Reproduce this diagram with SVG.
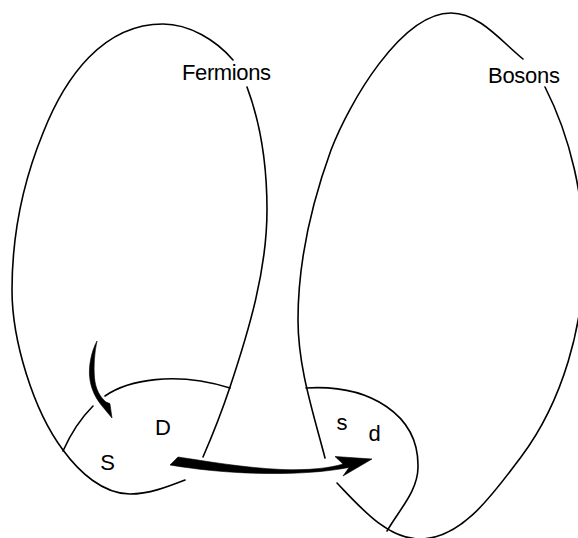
<svg xmlns="http://www.w3.org/2000/svg" width="578" height="538" viewBox="0 0 578 538">
<style>
.outline{fill:none;stroke:#000;stroke-width:1.6;stroke-linecap:round}
.lbl{font-family:"Liberation Sans",Arial,sans-serif;font-size:22px;fill:#000}
.arrow{fill:#000;stroke:#000;stroke-width:0.6;stroke-linejoin:round}
</style>
<rect width="578" height="538" fill="#fff"/>
<g id="fermions">
<path class="outline" d="M185,480 C167,487 149,494 130,494 C103,494 79,472 63,450 C33,410 12,340 12,290 C12,237 23,182 43,133 C65,77 103,24 163,24 C189,24 216,40 233,60"/>
<path class="outline" d="M247,87 C262,127 267,168 267,210 C267,270 249,330 230,387 C222,411 213,434 203,457"/>
<text class="lbl" x="182" y="80" textLength="89">Fermions</text>
</g>
<g id="bosons">
<path class="outline" d="M545,87 C571,138 584,198 584,255 C584,325 563,401 521,457 C495,491 463,539 420,539 C387,539 360,507 337,483"/>
<path class="outline" d="M325,458 C313,412 298,367 298,320 C298,262 311,205 331,150 C349,103 401,13 451,13 C479,13 501,41 523,59"/>
<text class="lbl" x="488" y="83" textLength="72">Bosons</text>
</g>
<g id="state-SD">
<path class="outline" d="M63,451 Q75,424 93,406"/>
<path class="outline" d="M105,396 C128,380 175,371 230,388"/>
<text class="lbl" x="163" y="435" text-anchor="middle">D</text>
<text class="lbl" x="107.5" y="470" text-anchor="middle">S</text>
</g>
<g id="state-sd">
<path class="outline" d="M306,388 C370,384 419,415 418,467 C418,491 399,510 387,531"/>
<text class="lbl" x="342" y="430" text-anchor="middle">s</text>
<text class="lbl" x="374.5" y="441" text-anchor="middle">d</text>
</g>
<g id="connectors">
<path class="arrow" d="M97,341 C91,352 88,368 90,380 C91.5,390 96,399 102.7,406.8 L112,418 L109.9,403.6 L106,402 C100,397 95.5,389 94.5,378 C93.5,366 94.5,352 97,341 Z"/>
<path class="arrow" d="M170,465 L178,457 C205,461 245,468 282,469.5 C310,470.5 330,468 343,464 L335,456.5 L372,459 L343,476 L349,467.5 C330,471 310,473 282,473.5 C245,474 205,471 170,465 Z"/>
</g>
</svg>
